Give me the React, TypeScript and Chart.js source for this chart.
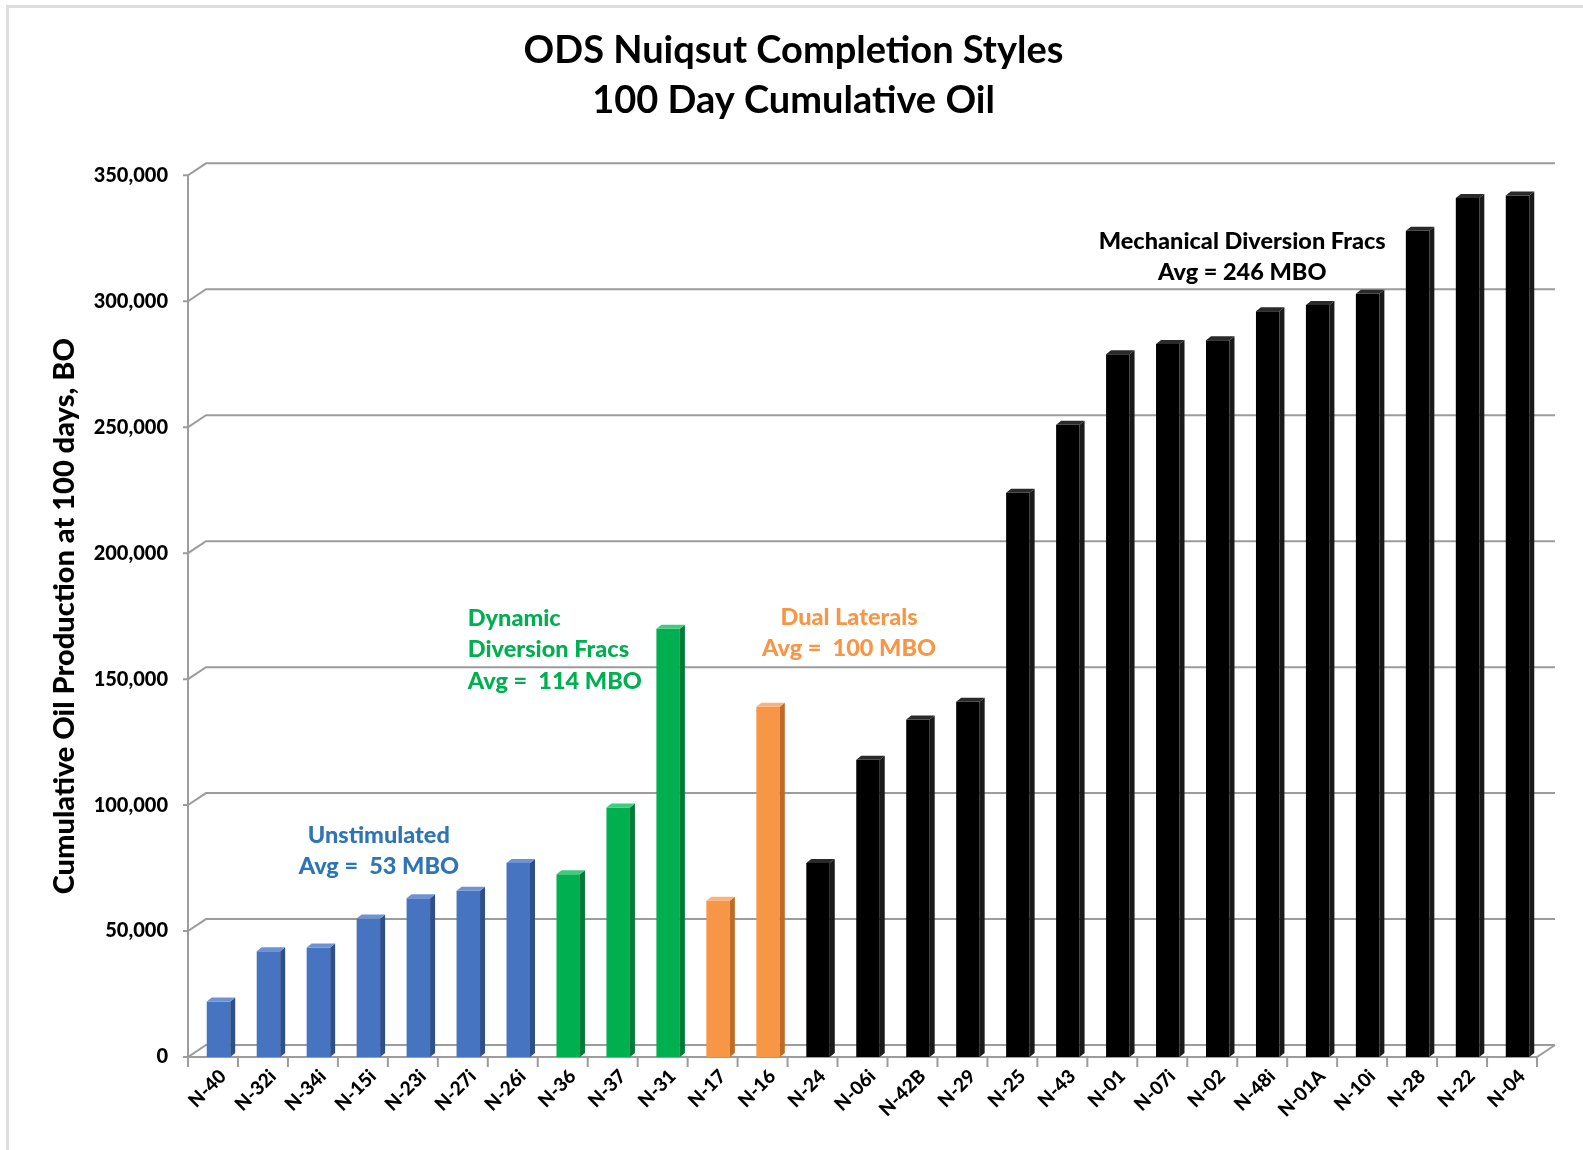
import React, { useEffect, useRef } from 'react';
import { Chart, registerables } from 'chart.js';

Chart.register(...registerables);

// ---------- DATA ----------
const wells = [
  'N-40', 'N-32i', 'N-34i', 'N-15i', 'N-23i', 'N-27i', 'N-26i',
  'N-36', 'N-37', 'N-31',
  'N-17', 'N-16',
  'N-24', 'N-06i', 'N-42B', 'N-29', 'N-25', 'N-43', 'N-01', 'N-07i', 'N-02', 'N-48i', 'N-01A', 'N-10i', 'N-28', 'N-22', 'N-04',
];
const cumOil100 = [
  22000, 42000, 43500, 55000, 63000, 66000, 77000,
  72500, 99000, 170000,
  62000, 139000,
  77000, 118000, 134000, 141000, 224000, 251000, 279000, 283000, 284500, 296000, 298500, 303000, 328000, 341000, 342000,
];
const completionStyle = [
  'U', 'U', 'U', 'U', 'U', 'U', 'U',
  'D', 'D', 'D',
  'L', 'L',
  'M', 'M', 'M', 'M', 'M', 'M', 'M', 'M', 'M', 'M', 'M', 'M', 'M', 'M', 'M',
];
const yTickValues = [0, 50000, 100000, 150000, 200000, 250000, 300000, 350000];

const styleColors: Record<string, { front: string; side: string; top: string }> = {
  U: { front: '#4674c1', side: '#2d4f8c', top: '#6e93d4' },
  D: { front: '#00b050', side: '#007a37', top: '#3fcc7c' },
  L: { front: '#f79646', side: '#c06b25', top: '#fab27a' },
  M: { front: '#000000', side: '#1a1a1a', top: '#2a2a2a' },
};

const groupNotes = [
  { lines: ['Unstimulated', 'Avg =  53 MBO'], color: '#2e75b6', at: 3.32, value: 88100, align: 'center' },
  { lines: ['Dynamic', 'Diversion Fracs', 'Avg =  114 MBO'], color: '#00b050', at: 5.1, value: 174200, align: 'left' },
  { lines: ['Dual Laterals', 'Avg =  100 MBO'], color: '#f79646', at: 12.73, value: 174600, align: 'center' },
  { lines: ['Mechanical Diversion Fracs', 'Avg = 246 MBO'], color: '#000000', at: 20.6, value: 323800, align: 'center' },
];

// ---------- STYLE CONSTANTS ----------
const FONT = 'Lato, "Open Sans", sans-serif';
const DEPTH_X = 18;
const DEPTH_Y = 12;
const BAR_SHIFT = 5.5;
const BAR_DX = 5;
const BAR_DY = 4;
const GRID_COLOR = '#9c9c9c';

const frame3d = {
  id: 'frame3d',
  beforeDatasetsDraw(chart: any) {
    const { ctx, chartArea, scales } = chart;
    const { left, right, top, bottom } = chartArea;
    const y = scales.y;
    const x = scales.x;
    ctx.save();
    ctx.strokeStyle = GRID_COLOR;
    ctx.lineWidth = 2;
    ctx.lineCap = 'butt';
    ctx.beginPath();
    ctx.moveTo(left, top);
    ctx.lineTo(left, bottom);
    ctx.stroke();
    y.ticks.forEach((t: any) => {
      const py = y.getPixelForValue(t.value);
      ctx.beginPath();
      ctx.moveTo(left - 5, py);
      ctx.lineTo(left, py);
      ctx.lineTo(left + DEPTH_X, py - DEPTH_Y);
      ctx.lineTo(right + DEPTH_X, py - DEPTH_Y);
      ctx.stroke();
    });
    const py0 = y.getPixelForValue(0);
    ctx.beginPath();
    ctx.moveTo(left, py0);
    ctx.lineTo(right, py0);
    ctx.lineTo(right + DEPTH_X, py0 - DEPTH_Y);
    ctx.stroke();
    const n = wells.length;
    for (let i = 0; i <= n; i++) {
      let bx;
      if (i === 0) bx = left;
      else if (i === n) bx = right;
      else bx = (x.getPixelForValue(i - 1) + x.getPixelForValue(i)) / 2;
      ctx.beginPath();
      ctx.moveTo(bx, py0);
      ctx.lineTo(bx, py0 + 10);
      ctx.stroke();
    }
    ctx.restore();
    ctx.save();
    ctx.translate(BAR_SHIFT, 0);
  },
  afterDatasetsDraw(chart: any) {
    const { ctx } = chart;
    const meta = chart.getDatasetMeta(0);
    meta.data.forEach((el: any, i: number) => {
      const c = styleColors[completionStyle[i]];
      const w = el.width;
      const xl = el.x - w / 2;
      const xr = el.x + w / 2;
      ctx.fillStyle = c.side;
      ctx.beginPath();
      ctx.moveTo(xr, el.y);
      ctx.lineTo(xr + BAR_DX, el.y - BAR_DY);
      ctx.lineTo(xr + BAR_DX, el.base - BAR_DY);
      ctx.lineTo(xr, el.base);
      ctx.closePath();
      ctx.fill();
      ctx.fillStyle = c.top;
      ctx.beginPath();
      ctx.moveTo(xl, el.y);
      ctx.lineTo(xl + BAR_DX, el.y - BAR_DY);
      ctx.lineTo(xr + BAR_DX, el.y - BAR_DY);
      ctx.lineTo(xr, el.y);
      ctx.closePath();
      ctx.fill();
    });
    ctx.restore();
  },
  afterDraw(chart: any) {
    const { ctx, scales } = chart;
    ctx.save();
    ctx.font = `900 23.5px ${FONT}`;
    ctx.textBaseline = 'middle';
    groupNotes.forEach((g) => {
      const px = scales.x.getPixelForValue(g.at);
      const py = scales.y.getPixelForValue(g.value);
      ctx.fillStyle = g.color;
      ctx.textAlign = g.align as CanvasTextAlign;
      g.lines.forEach((ln, k) => ctx.fillText(ln, px, py + k * 31.5));
    });
    ctx.restore();
  },
};

export default function App() {
  const ref = useRef<HTMLCanvasElement | null>(null);

  useEffect(() => {
    document.body.style.margin = '0';
    if (!ref.current) return;
    const chart = new Chart(ref.current, {
      type: 'bar',
      data: {
        labels: wells,
        datasets: [
          {
            label: 'Cumulative Oil at 100 days',
            data: cumOil100,
            backgroundColor: completionStyle.map((s) => styleColors[s].front),
            borderWidth: 0,
            barPercentage: 0.47,
            categoryPercentage: 1,
          },
        ],
      },
      options: {
        responsive: false,
        animation: false,
        devicePixelRatio: 1,
        layout: { padding: { left: 50, right: 46, top: 0, bottom: 0 } },
        plugins: {
          legend: { display: false },
          tooltip: { enabled: false },
          title: {
            display: true,
            text: ['ODS Nuiqsut Completion Styles', '100 Day Cumulative Oil'],
            color: '#000',
            font: { family: FONT, size: 38, weight: 'bold', lineHeight: 1.32 },
            padding: { top: 26, bottom: 49 },
          },
        },
        scales: {
          x: {
            grid: { display: false, drawTicks: false },
            border: { display: false },
            ticks: {
              color: '#000',
              font: { family: FONT, size: 19, weight: '900' },
              minRotation: 45,
              maxRotation: 45,
              autoSkip: false,
              padding: 8,
              labelOffset: 10,
            },
            afterFit: (s: any) => {
              s.height = 93;
            },
          },
          y: {
            min: 0,
            max: 350000,
            grid: { display: false, drawTicks: false },
            border: { display: false },
            afterBuildTicks: (s: any) => {
              s.ticks = yTickValues.map((v) => ({ value: v }));
            },
            ticks: {
              color: '#000',
              font: { family: FONT, size: 20, weight: '900' },
              padding: 20,
              callback: (v: any) => Number(v).toLocaleString('en-US'),
            },
            title: {
              display: true,
              text: 'Cumulative Oil Production at 100 days, BO',
              color: '#000',
              font: { family: FONT, size: 29, weight: '900', lineHeight: 1.0 },
              padding: { top: 0, bottom: 0 },
            },
            afterFit: (s: any) => {
              s.width = 138;
            },
          },
        },
      },
      plugins: [frame3d],
    });
    return () => chart.destroy();
  }, []);

  return (
    <div style={{ position: 'relative', width: 1583, height: 1150, overflow: 'hidden', background: '#fff' }}>
      <canvas ref={ref} width={1583} height={1150} style={{ position: 'absolute', left: 0, top: 0 }} />
      <div
        style={{
          position: 'absolute',
          left: 6,
          top: 5,
          width: 1600,
          height: 1200,
          borderTop: '3px solid #dedede',
          borderLeft: '3px solid #dedede',
          pointerEvents: 'none',
        }}
      />
    </div>
  );
}
